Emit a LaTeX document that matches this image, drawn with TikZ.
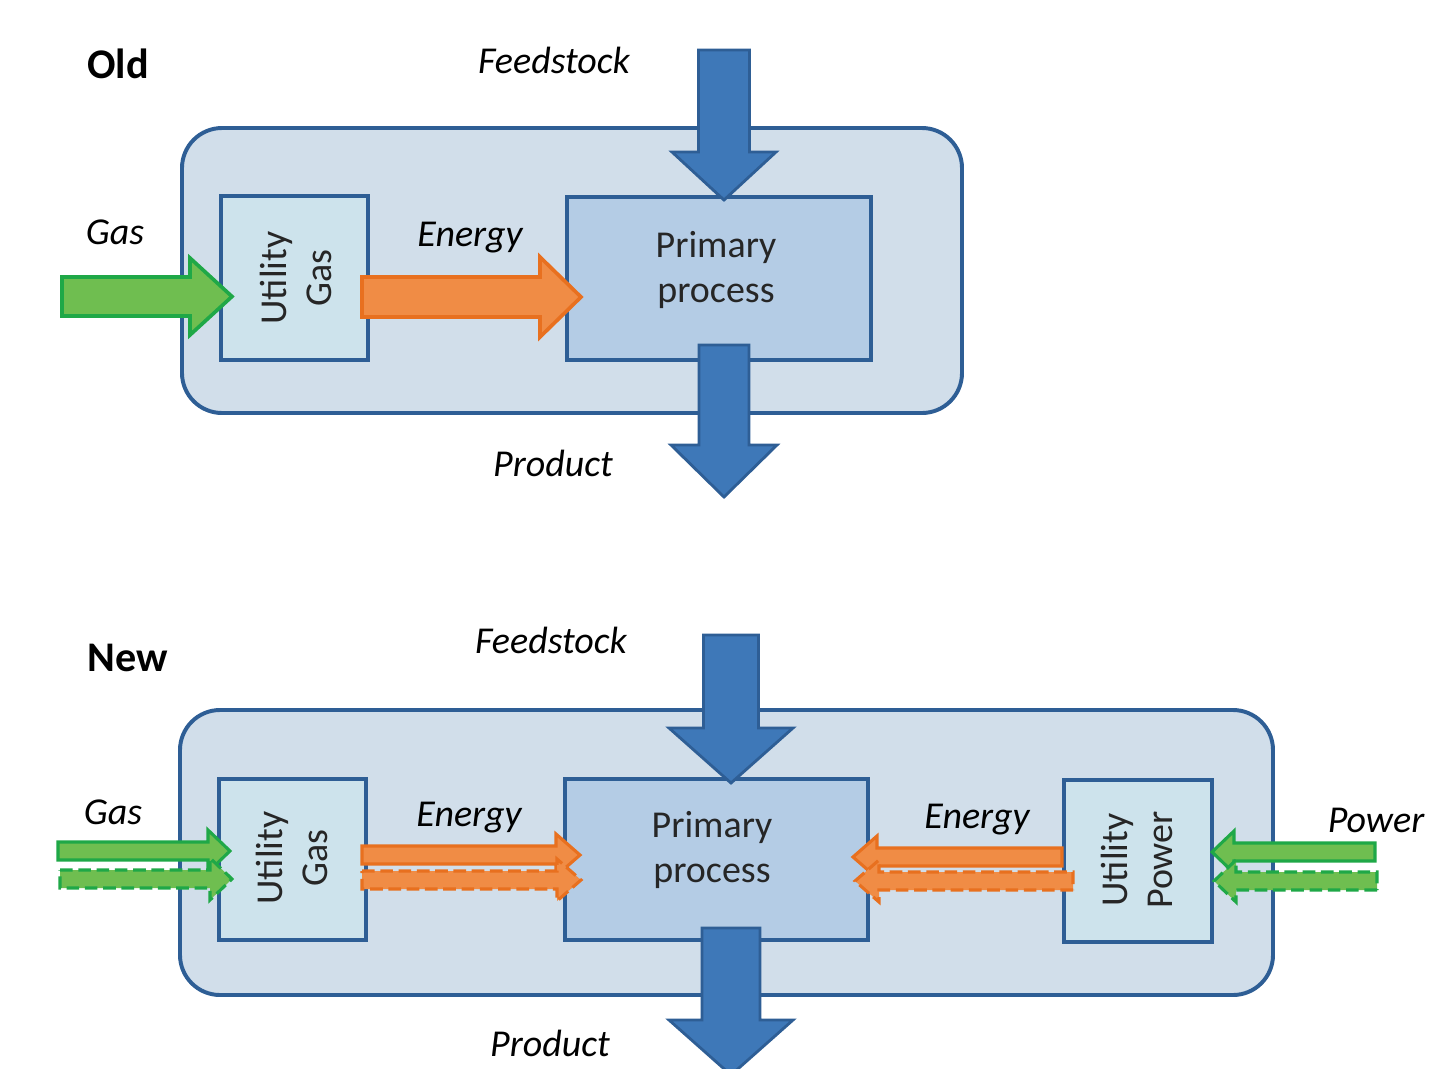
\documentclass[tikz,border=0pt]{standalone}
\usepackage{fontspec}
\setmainfont{Carlito}
\definecolor{frameblue}{HTML}{2E5E95}
\definecolor{plantfill}{HTML}{D1DEEA}
\definecolor{utilfill}{HTML}{CDE3EC}
\definecolor{primfill}{HTML}{B4CCE5}
\definecolor{flowblue}{HTML}{3E78B8}
\definecolor{gasfill}{HTML}{6FBE50}
\definecolor{gasline}{HTML}{1FA847}
\definecolor{enfill}{HTML}{F08C45}
\definecolor{enline}{HTML}{E8701F}
% block arrow: style, tail point, angle, length, shaft half width, head half width, head length
\newcommand\blockarrow[7]{%
  \begin{scope}[shift={#2}, rotate=#3]
    \draw[#1] (0,-#5) -- ({#4-#7},-#5) -- ({#4-#7},-#6) -- (#4,0)
      -- ({#4-#7},#6) -- ({#4-#7},#5) -- (0,#5) -- cycle;
  \end{scope}}
\begin{document}
\begin{tikzpicture}[x=0.025cm, y=-0.025cm,
  lbl/.style={font=\fontsize{27}{32}\selectfont\itshape, inner sep=0pt},
  head/.style={font=\fontsize{30}{34}\selectfont\bfseries, inner sep=0pt},
  boxtxt/.style={font=\fontsize{27}{32}\selectfont, align=center, inner sep=0pt, text=black!85},
  plant/.style={draw=frameblue, line width=2.8pt, fill=plantfill, rounded corners=1cm},
  utilbox/.style={draw=frameblue, line width=2.6pt, fill=utilfill},
  primbox/.style={draw=frameblue, line width=2.6pt, fill=primfill},
  bigflow/.style={draw=frameblue, line width=2pt, fill=flowblue, line join=miter},
  gasflow/.style={draw=gasline, line width=2.6pt, fill=gasfill, line join=miter},
  enflow/.style={draw=enline, line width=2.6pt, fill=enfill, line join=miter},
  gasthin/.style={draw=gasline, line width=2.2pt, fill=gasfill, line join=miter},
  enthin/.style={draw=enline, line width=2.2pt, fill=enfill, line join=miter},
  dashflow/.style={dash pattern=on 9pt off 4pt}
]
\useasboundingbox (0,0) rectangle (1442,1068);
\clip (0,0) rectangle (1442,1068);

% ---------------- old layout ----------------
\node[head] (oldlbl) at (118,64) {Old};
\draw[plant] (182,128) rectangle (962,413);
\draw[utilbox] (221,196) rectangle (368,360);
\draw[primbox] (567,197) rectangle (871,360);
\node[boxtxt, rotate=90] (ugasold) at (296,278) {Utility\\Gas};
\node[boxtxt] (primold) at (716,270) {Primary\\process};

\blockarrow{bigflow}{(724,50)}{-90}{150}{25.5}{52}{48}
\blockarrow{bigflow}{(724,345)}{-90}{152}{25}{53}{52}
\blockarrow{gasflow}{(62,296.5)}{0}{170}{19.5}{38.5}{42}
\blockarrow{enflow}{(362,297)}{0}{219}{20}{40}{41}

\node[lbl] (feedold) at (554,60) {Feedstock};
\node[lbl] (gasold) at (115,232) {Gas};
\node[lbl] (enold) at (470,238) {Energy};
\node[lbl] (prodold) at (553,463) {Product};

% ---------------- new layout ----------------
\node[head] (newlbl) at (128,658) {New};
\draw[plant] (180,710) rectangle (1273,995);
\draw[utilbox] (219,779) rectangle (366,940);
\draw[primbox] (565,779) rectangle (868,940);
\draw[utilbox] (1064,780) rectangle (1212,942);
\node[boxtxt, rotate=90] (ugasnew) at (292,858) {Utility\\Gas};
\node[boxtxt] (primnew) at (712,850) {Primary\\process};
\node[boxtxt, rotate=90] (upownew) at (1137,860) {Utility\\Power};

\blockarrow{bigflow}{(731,635)}{-90}{148}{27.5}{62}{55}
\blockarrow{bigflow}{(731,928)}{-90}{147}{29}{62}{55}

% gas supply, present and future
\blockarrow{gasthin}{(58,851)}{0}{172}{9}{21}{22}
\blockarrow{gasthin,dashflow}{(60,879)}{0}{172}{9}{21}{22}
% energy to the primary process from the gas utility
\blockarrow{enthin}{(362,855)}{0}{218}{9}{21}{24}
\blockarrow{enthin,dashflow}{(362,880)}{0}{219}{9}{21}{24}
% energy to the primary process from the power utility
\blockarrow{enthin}{(1062,857)}{180}{209}{9}{21}{24}
\blockarrow{enthin,dashflow}{(1073,881)}{180}{218}{9}{21}{24}
% power supply, present and future
\blockarrow{gasthin}{(1375,852)}{180}{163}{9}{21}{22}
\blockarrow{gasthin,dashflow}{(1377,881)}{180}{163}{9}{21}{22}

\node[lbl] (feednew) at (551,640) {Feedstock};
\node[lbl] (gasnew) at (113,812) {Gas};
\node[lbl] (enleft) at (469,818) {Energy};
\node[lbl] (enright) at (977,820) {Energy};
\node[lbl] (powernew) at (1376,820) {Power};
\node[lbl] (prodnew) at (550,1043) {Product};
\end{tikzpicture}
\end{document}
